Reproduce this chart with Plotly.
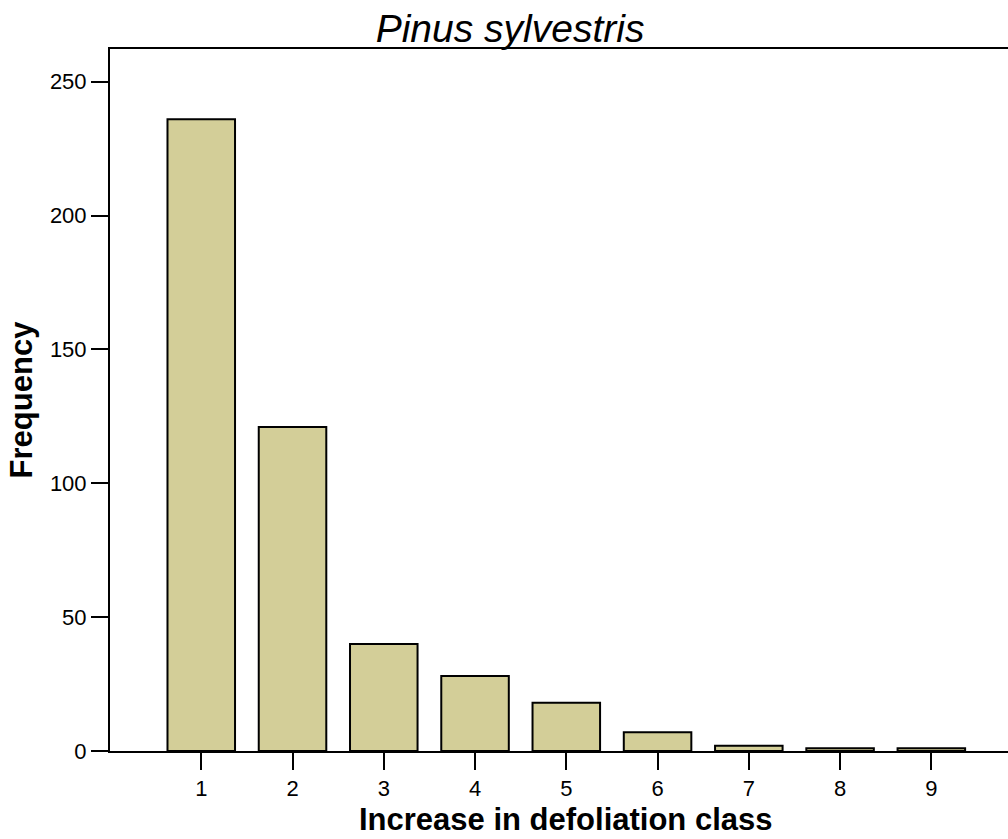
import plotly.graph_objects as go

classes = [1, 2, 3, 4, 5, 6, 7, 8, 9]
frequency = [236, 121, 40, 28, 18, 7, 2, 1, 1]
y_ticks = [0, 50, 100, 150, 200, 250]

fig = go.Figure(go.Bar(
    x=classes, y=frequency, width=0.74,
    marker=dict(color="rgb(211,206,152)", line=dict(color="black", width=2)),
))

font = "Liberation Sans, Arial, sans-serif"
fig.update_layout(
    width=1008, height=839,
    margin=dict(l=110, r=0, t=49, b=88),
    paper_bgcolor="white", plot_bgcolor="white",
    showlegend=False,
    font=dict(family=font, color="black", size=22),
    title=dict(text="<i>Pinus sylvestris</i>", x=0.506, xanchor="center",
               y=1 - 28 / 839, yanchor="middle", font=dict(size=39, family=font)),
)
fig.add_annotation(
    text="<b>Increase in defoliation class</b>", xref="paper", yref="paper",
    x=(566 - 110) / (1008 - 110), y=(751 - 819) / (751 - 49),
    xanchor="center", yanchor="middle", showarrow=False, font=dict(size=31),
)
fig.update_xaxes(
    range=[0, 9.84], tickmode="array", tickvals=classes, ticktext=[str(c) for c in classes],
    showline=True, linecolor="black", linewidth=2, mirror=True,
    ticks="outside", ticklen=17, tickwidth=2, tickcolor="black",
    showgrid=False, zeroline=False,
)
fig.update_yaxes(
    range=[0, 262.2], tickmode="array", tickvals=y_ticks,
    showline=True, linecolor="black", linewidth=2,
    ticks="outside", ticklen=17, tickwidth=2, tickcolor="black",
    showgrid=False, zeroline=False,
    title=dict(text="<b>Frequency</b>", font=dict(size=31), standoff=8),
)
fig.write_html("out.html", config={"displayModeBar": False},
               post_script="document.body.style.margin='0';")
